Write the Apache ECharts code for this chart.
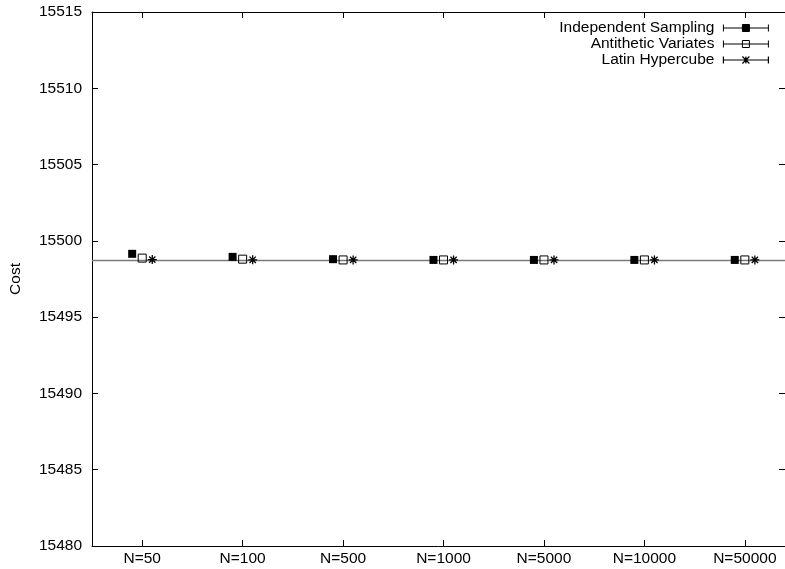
<!DOCTYPE html>
<html>
<head>
<meta charset="utf-8">
<script src="https://cdn.jsdelivr.net/npm/echarts@6/dist/echarts.min.js"></script>
<style>html,body{margin:0;padding:0;background:#fff}#c{width:785px;height:569px}</style>
</head>
<body>
<div id="c"></div>
<script>
var categories = ['N=50','N=100','N=500','N=1000','N=5000','N=10000','N=50000'];
var independent = [15499.15, 15498.95, 15498.8, 15498.75, 15498.75, 15498.75, 15498.75];
var antithetic  = [15498.87, 15498.8, 15498.75, 15498.75, 15498.75, 15498.75, 15498.75];
var latin       = [15498.77, 15498.76, 15498.75, 15498.75, 15498.75, 15498.75, 15498.75];
var referenceCost = 15498.73;
var yTicks = [15480, 15485, 15490, 15495, 15500, 15505, 15510, 15515];

var FONT = '"Liberation Sans", Arial, Helvetica, sans-serif';
var FS = 15.5;
var pos = categories.map(function(_, i){ return i + 1; });
function pts(arr, off){ return arr.map(function(v, i){ return [i + 1 + off, v]; }); }

var asterisk = 'path://M0 4 L8 4 M4 0 L4 8 M1.2 1.2 L6.8 6.8 M1.2 6.8 L6.8 1.2';
var legLine = 'M0 3.5 L45 3.5 M0 0 L0 7 M45 0 L45 7 ';
var legSq = legLine + 'M19 0 L26 0 L26 7 L19 7 Z';
var legAst = legLine + 'M19 0 L26 7 M19 7 L26 0 M22.5 0 L22.5 7';

var xBase = {
  type: 'value', min: 0.5, max: 7.4,
  axisLine: {show: true, onZero: false, lineStyle: {color: '#000', width: 1}},
  axisTick: {show: true, inside: true, length: 6, customValues: pos, lineStyle: {color: '#000'}},
  splitLine: {show: false}
};
var yBase = {
  type: 'value', min: yTicks[0], max: yTicks[yTicks.length-1], interval: 5,
  axisLine: {show: true, lineStyle: {color: '#000', width: 1}},
  axisTick: {show: true, inside: true, length: 6, lineStyle: {color: '#000'}},
  splitLine: {show: false}
};

var option = {
  animation: false,
  backgroundColor: '#fff',
  grid: {left: 91, top: 12, width: 695, height: 534},
  xAxis: [
    Object.assign({}, xBase, {position: 'bottom',
      axisLabel: {customValues: pos, margin: 5, color: '#000', fontFamily: FONT, fontSize: FS,
        formatter: function(v){ return categories[Math.round(v) - 1]; }}}),
    Object.assign({}, xBase, {position: 'top', axisLabel: {show: false}})
  ],
  yAxis: [
    Object.assign({}, yBase, {position: 'left', name: 'Cost', nameLocation: 'middle', nameGap: 68,
      nameTextStyle: {color: '#000', fontFamily: FONT, fontSize: FS},
      axisLabel: {margin: 10, color: '#000', fontFamily: FONT, fontSize: FS,
        formatter: function(v){ return String(v); }}}),
    Object.assign({}, yBase, {position: 'right', axisLabel: {show: false}})
  ],
  legend: {
    right: 11, top: 15, orient: 'vertical', align: 'right',
    itemWidth: 45, itemHeight: 7, itemGap: 0,
    textStyle: {color: '#000', fontFamily: FONT, fontSize: FS, padding: [0, 4, 0, 0]},
    data: [
      {name: 'Independent Sampling', icon: 'path://' + legSq,
        itemStyle: {color: '#000', borderColor: '#000', borderWidth: 1}},
      {name: 'Antithetic Variates', icon: 'path://' + legSq,
        itemStyle: {color: 'rgba(0,0,0,0)', borderColor: '#000', borderWidth: 1}},
      {name: 'Latin Hypercube', icon: 'path://' + legAst,
        itemStyle: {color: 'rgba(0,0,0,0)', borderColor: '#000', borderWidth: 1.2}}
    ]
  },
  series: [
    {name: 'Independent Sampling', type: 'scatter', symbol: 'rect', symbolSize: 8,
      data: pts(independent, -0.1), z: 3,
      itemStyle: {color: '#000', borderColor: '#000', borderWidth: 0, opacity: 1},
      markLine: {silent: true, symbol: 'none', label: {show: false}, z: 1,
        lineStyle: {color: '#7a7a7a', width: 1.3, type: 'solid'},
        data: [{yAxis: referenceCost}]}},
    {name: 'Antithetic Variates', type: 'scatter', symbol: 'rect', symbolSize: 8,
      data: pts(antithetic, 0), z: 3,
      itemStyle: {color: 'rgba(0,0,0,0)', borderColor: '#000', borderWidth: 1, opacity: 1}},
    {name: 'Latin Hypercube', type: 'scatter', symbol: asterisk, symbolSize: 9,
      data: pts(latin, 0.1), z: 3,
      itemStyle: {color: 'rgba(0,0,0,0)', borderColor: '#000', borderWidth: 1.3, opacity: 1}}
  ]
};
var chart = echarts.init(document.getElementById('c'), null, {renderer: 'canvas'});
chart.setOption(option);
</script>
</body>
</html>
